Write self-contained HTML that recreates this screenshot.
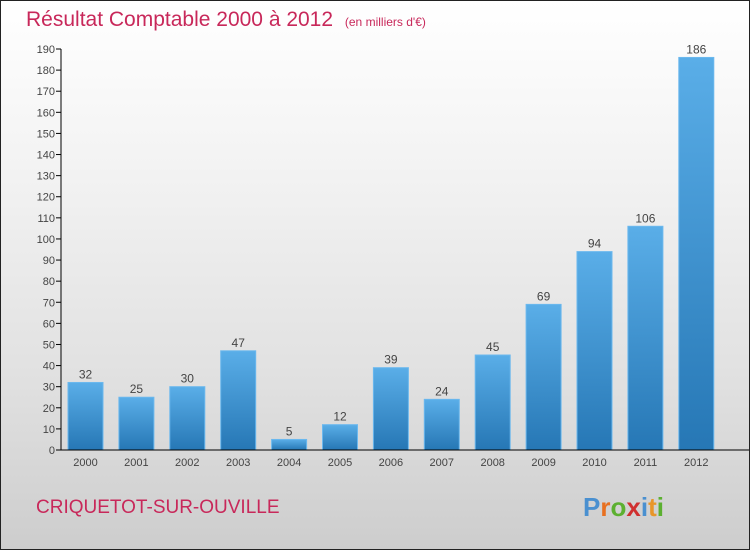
<!DOCTYPE html>
<html><head><meta charset="utf-8"><style>
body{margin:0;width:750px;height:550px;overflow:hidden;font-family:"Liberation Sans",sans-serif}
#wrap{position:absolute;left:0;top:0;width:748px;height:548px;border:1px solid #222;background:linear-gradient(#fff 0%,#f3f3f3 30%,#e0e0e0 70%,#cdcdcd 100%)}
</style></head><body>
<div id="wrap">
<svg width="748" height="548" id="svg">
<defs><linearGradient id="bg" x1="0" y1="0" x2="0" y2="1"><stop offset="0" stop-color="#5aaee8"/><stop offset="1" stop-color="#2677b5"/></linearGradient></defs>
<text x="25" y="25" font-size="21" fill="#c8285a">Résultat Comptable 2000 à 2012 <tspan font-size="12" dx="6">(en milliers d'€)</tspan></text>
<text x="35" y="512" font-size="19" fill="#c8285a">CRIQUETOT-SUR-OUVILLE</text>
<text x="582" y="515" font-size="26" font-weight="bold" fill="#e8962a"><tspan fill="#4a90d0">P</tspan><tspan fill="#e87020">r</tspan><tspan fill="#5cb030">o</tspan><tspan fill="#d03030">x</tspan><tspan fill="#4a90d0">i</tspan><tspan fill="#e8962a">t</tspan><tspan fill="#5cb030">i</tspan></text>
<g id="g"></g>
</svg></div>
<script>
const years=["2000","2001","2002","2003","2004","2005","2006","2007","2008","2009","2010","2011","2012"];
const values=[32,25,30,47,5,12,39,24,45,69,94,106,186];
const ticks=[0,10,20,30,40,50,60,70,80,90,100,110,120,130,140,150,160,170,180,190];
const NS="http://www.w3.org/2000/svg",g=document.getElementById('g');
const y=v=>449-v*(449-48)/190, x=i=>67+i*50.9;
function mk(t,a){const e=document.createElementNS(NS,t);for(const k in a)e.setAttribute(k,a[k]);g.appendChild(e);return e;}
ticks.forEach(t=>{
 const l=mk('line',{x1:55,x2:60,y1:y(t),y2:y(t),stroke:'#000'});
 
 
 const tx=mk('text',{x:54,y:y(t)+4,'font-size':11,'text-anchor':'end',fill:'#444'});tx.textContent=t;
 
 
});
values.forEach((v,i)=>{
 const r=mk('rect',{x:x(i),y:y(v),width:35,height:y(0)-y(v),fill:'url(#bg)',stroke:'#6bb8ee','stroke-width':1});
 
 
 const vl=mk('text',{x:x(i)+17.5,y:y(v)-4,'font-size':12,'text-anchor':'middle',fill:'#444'});vl.textContent=v;
 
 
 const xl=mk('text',{x:x(i)+17.5,y:465,'font-size':11,'text-anchor':'middle',fill:'#444'});xl.textContent=years[i];
 
 
});
const ya=mk('line',{x1:60,x2:60,y1:y(190),y2:y(0),stroke:'#000'});


const xa=mk('line',{x1:60,x2:748,y1:y(0),y2:y(0),stroke:'#000'});


</script>
</body></html>
